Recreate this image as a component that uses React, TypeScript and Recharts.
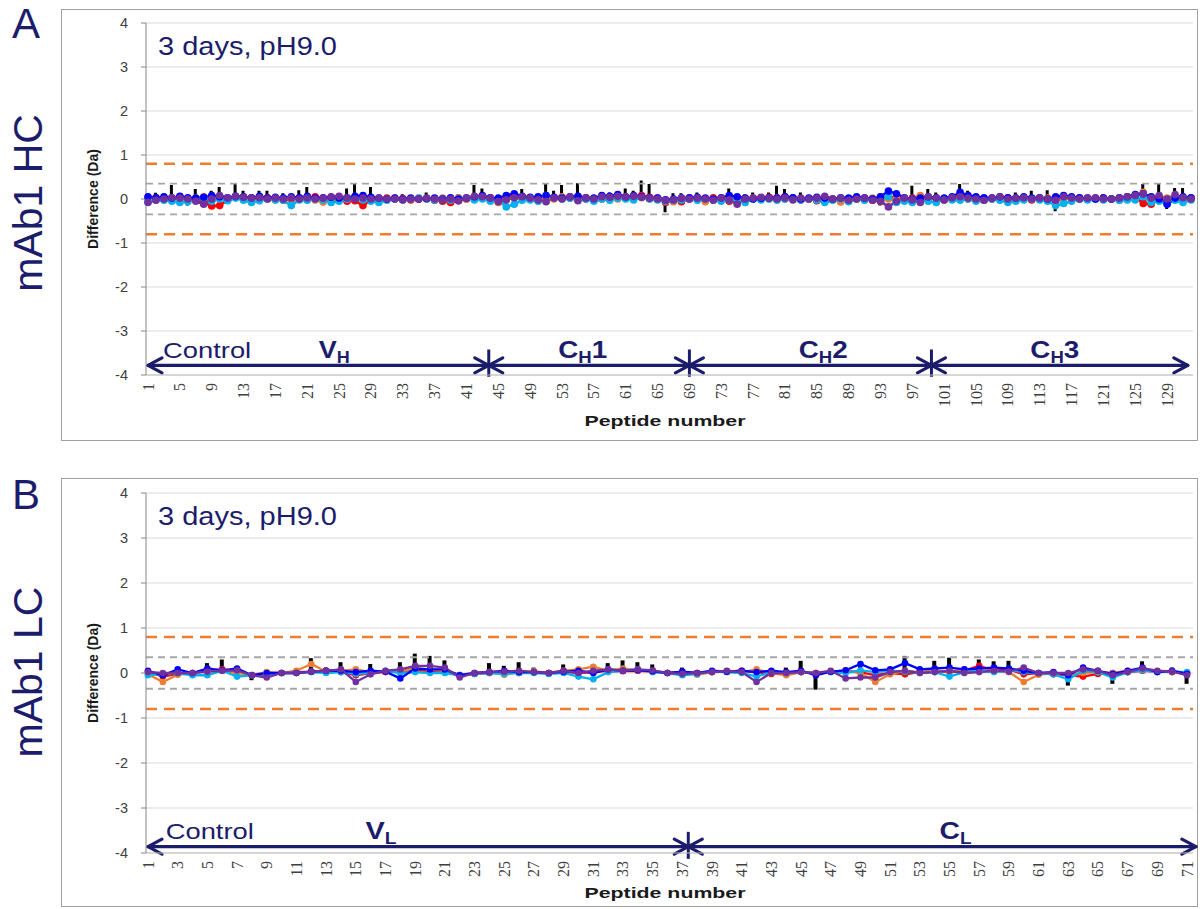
import React from 'react';
import {
  ComposedChart,
  Line,
  Bar,
  XAxis,
  YAxis,
  CartesianGrid,
  ReferenceLine,
  ReferenceDot,
} from 'recharts';

const NAVY = '#1c1c6c';
const RED = '#FF0000';
const ORANGE = '#ED7D31';
const CYAN = '#00B0F0';
const BLUE = '#0000FF';
const PURPLE = '#7030A0';

const Y_TICKS = [-4, -3, -2, -1, 0, 1, 2, 3, 4];

// ---- heavy chain (HC), peptides 1..132 ----
const HC_TICKS = [1, 5, 9, 13, 17, 21, 25, 29, 33, 37, 41, 45, 49, 53, 57, 61, 65, 69, 73, 77, 81, 85, 89, 93, 97, 101, 105, 109, 113, 117, 121, 125, 129];
const HC_PEPTIDES = Array.from({ length: 132 }, (_, i) => i + 1);

const HC_RED = [
  0.02, 0.03, 0.0, 0.02, 0.05, -0.02, 0.0, -0.08, -0.16, -0.15, -0.02, 0.05,
  0.04, 0.02, 0.0, 0.03, 0.01, -0.03, 0.0, 0.02, 0.03, 0.05, 0.0, -0.02,
  0.01, -0.05, -0.04, -0.15, -0.02, 0.0, 0.02, 0.0, 0.01, -0.02, 0.0, 0.01,
  -0.03, -0.05, -0.08, -0.04, 0.0, 0.05, 0.06, 0.02, -0.03, 0.0, 0.08, 0.02,
  0.01, -0.02, 0.0, 0.03, 0.04, 0.02, 0.05, 0.0, -0.03, 0.0, 0.02, 0.04,
  0.03, 0.06, 0.08, 0.04, 0.02, -0.08, -0.03, -0.06, 0.0, 0.02, 0.0, 0.03,
  0.01, -0.05, 0.0, -0.02, 0.02, 0.0, 0.04, 0.03, 0.05, 0.02, -0.02, 0.0,
  -0.04, -0.03, 0.0, -0.05, -0.02, 0.0, 0.02, -0.03, -0.05, 0.05, 0.03, 0.0,
  0.02, 0.05, 0.0, 0.02, -0.02, 0.0, 0.06, 0.02, 0.0, -0.03, 0.0, 0.01,
  0.02, 0.0, 0.03, -0.02, 0.02, 0.0, -0.05, 0.03, 0.0, 0.02, 0.01, 0.0,
  0.02, 0.0, -0.02, 0.03, 0.05, -0.1, -0.12, 0.02, 0.0, 0.03, 0.0, 0.02,
];
const HC_ORANGE = [
  0.0, 0.02, 0.0, 0.03, 0.0, -0.03, 0.02, 0.05, 0.0, 0.02, 0.0, 0.04,
  0.02, 0.0, 0.03, 0.0, -0.02, 0.0, 0.02, 0.0, 0.04, -0.02, -0.07, 0.0,
  0.02, 0.0, 0.03, 0.0, 0.02, 0.0, 0.0, 0.02, 0.0, 0.0, 0.02, 0.0,
  0.0, 0.02, 0.0, 0.03, 0.0, 0.02, 0.04, 0.0, -0.08, 0.0, 0.02, 0.0,
  0.03, 0.0, 0.02, 0.0, 0.05, 0.02, 0.0, 0.03, 0.0, 0.02, 0.04, 0.0,
  0.02, 0.05, 0.03, 0.0, 0.0, -0.05, -0.06, 0.0, 0.02, 0.0, -0.06, 0.0,
  0.02, 0.0, 0.0, 0.02, 0.0, 0.03, 0.0, 0.02, 0.0, 0.02, 0.0, 0.0,
  0.02, 0.0, 0.0, -0.07, 0.0, 0.03, 0.0, 0.02, 0.05, 0.0, 0.02, 0.0,
  0.0, 0.08, 0.02, 0.0, 0.0, 0.02, 0.04, 0.0, -0.04, 0.0, 0.02, 0.0,
  -0.04, 0.0, 0.02, 0.0, 0.0, 0.02, -0.02, 0.0, 0.03, 0.0, 0.0, 0.02,
  0.0, 0.0, 0.02, 0.05, 0.08, 0.15, 0.0, -0.03, 0.02, 0.05, 0.02, 0.0,
];
const HC_CYAN = [
  -0.06, -0.02, -0.03, -0.05, -0.08, -0.06, 0.0, 0.02, -0.05, 0.0, -0.04, 0.02,
  -0.03, -0.08, -0.04, 0.0, -0.02, -0.03, -0.15, -0.02, -0.03, 0.0, -0.02, -0.08,
  -0.05, 0.0, 0.03, -0.02, -0.05, -0.08, -0.03, 0.0, -0.02, 0.0, 0.02, 0.0,
  -0.02, 0.0, -0.03, 0.0, 0.02, -0.02, 0.0, -0.05, -0.02, -0.18, -0.12, -0.03,
  -0.02, -0.05, 0.08, 0.03, 0.0, 0.02, -0.02, 0.0, -0.05, 0.0, -0.03, 0.02,
  0.0, -0.02, 0.04, 0.0, -0.02, -0.05, -0.03, -0.02, 0.0, -0.03, 0.0, -0.02,
  -0.05, -0.02, 0.0, -0.08, 0.0, -0.02, 0.0, -0.03, 0.0, 0.02, -0.02, 0.0,
  -0.02, -0.08, -0.03, 0.0, -0.06, 0.0, -0.03, 0.0, -0.02, 0.05, -0.08, -0.05,
  -0.08, -0.02, -0.05, -0.08, 0.0, -0.02, -0.03, 0.0, -0.05, -0.02, 0.0, -0.03,
  -0.08, -0.05, -0.02, 0.0, -0.02, -0.05, -0.15, -0.1, -0.05, 0.0, -0.02, 0.0,
  -0.02, 0.0, -0.03, -0.02, -0.02, 0.05, -0.08, -0.05, -0.1, -0.03, -0.08, -0.02,
];
const HC_BLUE = [
  0.05, 0.03, 0.05, 0.02, 0.06, 0.03, 0.02, 0.04, 0.08, 0.05, 0.03, 0.06,
  0.05, 0.03, 0.06, 0.02, 0.04, 0.02, 0.05, 0.03, 0.06, 0.02, 0.03, 0.04,
  0.02, 0.03, 0.06, 0.08, 0.04, 0.02, 0.0, 0.02, 0.0, 0.02, 0.0, 0.01,
  0.02, 0.0, 0.03, 0.0, 0.02, 0.05, 0.08, 0.03, 0.02, 0.08, 0.12, 0.06,
  0.04, 0.05, 0.08, 0.04, 0.02, 0.05, 0.06, 0.03, 0.02, 0.08, 0.06, 0.1,
  0.05, 0.08, 0.05, 0.03, 0.02, -0.02, 0.0, 0.02, 0.03, 0.04, 0.02, 0.0,
  0.03, 0.08, 0.05, 0.02, 0.0, 0.02, 0.03, 0.02, 0.05, 0.03, 0.0, 0.02,
  0.04, 0.02, 0.0, 0.03, 0.02, 0.05, 0.02, 0.0, 0.05, 0.18, 0.12, 0.03,
  0.0, 0.02, 0.05, 0.03, 0.02, 0.05, 0.15, 0.08, 0.05, 0.03, 0.02, 0.05,
  0.03, 0.02, 0.05, 0.02, 0.03, 0.0, 0.05, 0.08, 0.05, 0.03, 0.02, 0.0,
  0.02, 0.0, 0.03, 0.05, 0.1, 0.12, 0.05, 0.0, -0.12, 0.02, 0.05, 0.03,
];
const HC_PURPLE = [
  -0.08, -0.03, 0.0, 0.03, 0.02, 0.0, -0.05, -0.12, 0.0, 0.08, 0.03, 0.06,
  0.04, 0.02, 0.03, 0.0, 0.02, 0.0, 0.03, 0.0, 0.02, 0.0, 0.02, 0.05,
  0.06, 0.03, 0.0, 0.02, 0.0, 0.02, 0.0, 0.0, -0.02, 0.0, 0.0, 0.02,
  0.0, -0.02, 0.0, -0.04, 0.02, 0.06, 0.05, 0.02, -0.06, -0.02, 0.03, 0.05,
  0.02, -0.02, -0.06, 0.02, 0.0, 0.05, -0.04, 0.03, 0.0, 0.05, 0.04, 0.06,
  0.05, 0.06, 0.04, 0.02, 0.0, -0.03, -0.02, 0.02, 0.0, 0.02, 0.0, -0.03,
  0.02, -0.02, -0.12, 0.0, 0.02, 0.04, 0.02, 0.0, 0.02, -0.02, 0.02, 0.0,
  0.02, 0.06, 0.0, 0.02, -0.03, 0.0, 0.02, -0.03, -0.05, -0.18, -0.05, 0.02,
  -0.02, -0.08, 0.05, 0.02, -0.02, 0.03, 0.05, 0.02, 0.0, -0.03, 0.02, 0.05,
  0.0, 0.02, 0.03, 0.0, 0.02, 0.0, -0.03, 0.05, 0.02, 0.0, 0.02, 0.03,
  0.0, 0.0, 0.02, 0.05, 0.08, 0.12, 0.02, 0.08, 0.0, 0.1, 0.03, 0.0,
];
const HC_SPREAD = [
  0, 0.14, 0, 0.32, 0, -0.15, 0.23, 0, 0.19, 0.27, 0, 0.36,
  0.19, 0, 0.19, 0.19, 0, 0.13, 0, 0.2, 0.27, 0, 0, 0,
  0, 0.24, 0.34, 0, 0.27, 0, 0, 0, 0.11, 0, 0, 0.15,
  0, 0, 0, 0.11, 0, 0.32, 0.24, 0, 0, 0, 0, 0.23,
  0, 0, 0.34, 0.19, 0.32, 0, 0.36, 0, 0, 0.15, 0.15, 0,
  0.24, 0.19, 0.42, 0.34, 0, -0.3, 0.13, 0.13, 0, 0.15, 0, 0,
  0, 0.24, 0, 0.11, 0.15, 0, 0.15, 0.3, 0.23, 0, 0.15, 0,
  0, 0, 0, 0, 0, 0, 0, 0, -0.15, 0, 0, 0,
  0.3, 0, 0.23, 0.15, 0, 0, 0.34, 0.19, 0.11, 0, 0, 0.13,
  0, 0.15, 0, 0.19, 0, 0.2, -0.28, 0, 0, 0, 0, 0,
  0.11, 0, 0, 0, 0, 0.34, 0, 0.34, -0.23, 0.25, 0.25, 0,
];

// ---- light chain (LC), peptides 1..71 ----
const LC_TICKS = [1, 3, 5, 7, 9, 11, 13, 15, 17, 19, 21, 23, 25, 27, 29, 31, 33, 35, 37, 39, 41, 43, 45, 47, 49, 51, 53, 55, 57, 59, 61, 63, 65, 67, 69, 71];
const LC_PEPTIDES = Array.from({ length: 71 }, (_, i) => i + 1);

const LC_RED = [
  0.03, -0.08, -0.02, 0.0, 0.05, 0.08, 0.04, -0.05, -0.03, 0.0,
  0.02, 0.03, 0.05, 0.02, -0.05, 0.0, 0.02, 0.05, 0.06, 0.05,
  0.02, -0.05, -0.02, 0.0, 0.02, 0.0, 0.02, 0.0, 0.03, 0.0,
  0.02, 0.05, 0.04, 0.05, 0.03, 0.0, 0.02, 0.0, 0.02, 0.03,
  0.05, 0.02, -0.02, 0.0, 0.02, 0.0, 0.03, 0.05, 0.02, -0.05,
  0.0, -0.03, 0.02, 0.05, 0.02, 0.05, 0.16, 0.05, 0.08, -0.03,
  0.0, -0.03, -0.05, -0.08, -0.02, 0.0, 0.02, 0.05, 0.03, 0.02, 0.0,
];
const LC_ORANGE = [
  -0.03, -0.2, -0.04, 0.0, 0.06, 0.05, 0.0, -0.04, 0.02, 0.0,
  0.05, 0.2, 0.03, 0.05, 0.08, 0.02, 0.03, 0.05, 0.1, 0.08,
  0.05, -0.04, 0.0, 0.02, -0.04, 0.02, 0.04, 0.0, 0.05, 0.08,
  0.14, 0.05, 0.1, 0.06, 0.04, 0.0, 0.02, -0.04, 0.02, 0.03,
  0.02, 0.08, 0.0, -0.05, 0.02, 0.0, 0.03, 0.05, 0.0, -0.2,
  -0.03, 0.05, 0.02, 0.05, 0.03, 0.08, 0.05, 0.06, 0.02, -0.2,
  -0.04, 0.0, -0.05, 0.0, 0.02, 0.0, 0.05, 0.08, 0.04, 0.02, -0.02,
];
const LC_CYAN = [
  -0.05, -0.02, 0.0, -0.05, -0.05, 0.05, -0.08, -0.05, -0.02, 0.0,
  0.0, 0.02, 0.0, 0.02, -0.02, 0.0, 0.05, 0.0, 0.02, 0.0,
  0.0, -0.05, -0.02, 0.0, -0.02, 0.0, 0.0, -0.02, 0.0, -0.08,
  -0.14, 0.02, 0.05, 0.08, 0.02, 0.0, -0.05, -0.02, 0.03, 0.02,
  0.0, -0.08, 0.02, 0.0, 0.03, -0.02, 0.02, 0.0, 0.06, 0.02,
  0.05, 0.03, 0.0, 0.02, -0.08, 0.02, 0.05, 0.02, 0.06, 0.02,
  0.0, -0.03, -0.14, 0.05, 0.02, -0.1, 0.02, 0.06, 0.02, 0.03, 0.02,
];
const LC_BLUE = [
  0.05, -0.05, 0.08, 0.0, 0.1, 0.06, 0.1, -0.05, 0.0, 0.0,
  0.0, 0.03, 0.05, 0.05, 0.02, 0.05, 0.03, -0.12, 0.1, 0.08,
  0.08, -0.05, 0.0, 0.02, 0.05, 0.02, 0.02, 0.0, 0.03, 0.05,
  0.0, 0.08, 0.05, 0.06, 0.04, 0.0, 0.03, 0.0, 0.05, 0.03,
  0.05, 0.02, 0.05, 0.02, 0.05, -0.05, 0.03, 0.06, 0.2, 0.06,
  0.08, 0.22, 0.08, 0.1, 0.12, 0.08, 0.1, 0.12, 0.1, 0.05,
  0.0, 0.02, -0.05, 0.12, 0.05, -0.02, 0.05, 0.12, 0.02, 0.05, -0.02,
];
const LC_PURPLE = [
  0.02, 0.0, 0.0, 0.0, 0.03, 0.05, 0.06, -0.05, -0.1, 0.0,
  0.0, 0.03, 0.05, 0.08, -0.2, -0.03, 0.05, 0.08, 0.16, 0.16,
  0.12, -0.1, 0.0, 0.02, 0.03, 0.05, 0.02, 0.0, 0.05, 0.0,
  0.05, 0.08, 0.05, 0.08, 0.06, 0.0, -0.02, 0.0, 0.02, 0.05,
  0.02, -0.2, 0.0, 0.0, 0.02, 0.0, 0.05, -0.12, -0.1, -0.1,
  0.02, 0.05, 0.0, 0.02, 0.05, 0.0, 0.02, 0.05, 0.03, 0.12,
  0.0, 0.0, 0.0, 0.08, 0.05, -0.05, 0.02, 0.1, 0.05, 0.03, -0.05,
];
const LC_SPREAD = [
  0, 0, 0, 0, 0.22, 0.3, 0, -0.16, 0, 0,
  0, 0.33, 0.12, 0.24, 0, 0.2, 0.08, 0.24, 0.43, 0.38,
  0.28, 0, 0, 0.22, 0.16, 0.24, 0.12, 0, 0.19, 0,
  0, 0.22, 0.28, 0.24, 0.19, 0, 0.12, 0, 0, 0,
  0, 0, 0, 0.12, 0.27, -0.37, 0.1, 0.1, 0.23, 0,
  0, 0.38, 0, 0.27, 0.34, 0.12, 0.3, 0.26, 0.27, 0,
  0, 0, -0.28, 0, 0, -0.24, 0, 0.26, 0, 0.12, -0.24,
];

// domain arrows along the bottom (peptide positions)
const HC_ARROWS = [[1, 43.8], [43.8, 69], [69, 99.4], [99.4, 131.6]];
const HC_DIVIDERS = [43.8, 69, 99.4];
const HC_REGIONS = [
  { x: 24.4, main: 'V', sub: 'H', tail: '', len: 31 },
  { x: 55.6, main: 'C', sub: 'H', tail: '1', len: 49 },
  { x: 85.8, main: 'C', sub: 'H', tail: '2', len: 49 },
  { x: 114.9, main: 'C', sub: 'H', tail: '3', len: 49 },
];
const LC_ARROWS = [[1, 37.4], [37.4, 71.6]];
const LC_DIVIDERS = [37.4];
const LC_REGIONS = [
  { x: 16.7, main: 'V', sub: 'L', tail: '', len: 31 },
  { x: 55.4, main: 'C', sub: 'L', tail: '', len: 32 },
];

const buildRows = (peptides: number[], red: number[], orange: number[], cyan: number[], blue: number[], purple: number[], spread: number[]) =>
  peptides.map((p, i) => ({
    p,
    red: red[i],
    orange: orange[i],
    cyan: cyan[i],
    blue: blue[i],
    purple: purple[i],
    spread: spread[i],
  }));

const HC_DATA = buildRows(HC_PEPTIDES, HC_RED, HC_ORANGE, HC_CYAN, HC_BLUE, HC_PURPLE, HC_SPREAD);
const LC_DATA = buildRows(LC_PEPTIDES, LC_RED, LC_ORANGE, LC_CYAN, LC_BLUE, LC_PURPLE, LC_SPREAD);

const XTick = ({ x, y, payload }: any) => (
  <text
    x={x}
    y={y}
    transform={`rotate(-90 ${x} ${y})`}
    textAnchor="end"
    dominantBaseline="central"
    fontSize={16}
    fontFamily="Liberation Serif"
    fill="#404040"
  >
    {payload.value}
  </text>
);

const DoubleArrow = (props: any) => {
  const { x1, y1, x2, y2 } = props;
  const h = 14;
  const w = 7.5;
  return (
    <g stroke={NAVY} strokeWidth={3.2} fill="none" strokeLinecap="round" strokeLinejoin="round">
      <line x1={x1} y1={y1} x2={x2} y2={y2} />
      <polyline points={`${x1 + h},${y1 - w} ${x1},${y1} ${x1 + h},${y1 + w}`} />
      <polyline points={`${x2 - h},${y2 - w} ${x2},${y2} ${x2 - h},${y2 + w}`} />
    </g>
  );
};

type PanelProps = {
  top: number;
  height: number;
  data: any[];
  ticks: number[];
  maxX: number;
  padRight: number;
  marginTop: number;
  axisHeight: number;
  arrowY: number;
  textY: number;
  divTop: number;
  divBottom: number;
  arrows: number[][];
  dividers: number[];
  regions: { x: number; main: string; sub: string; tail: string; len: number }[];
  controlX: number;
  dotR: number;
  lineW: number;
  barSize: number;
};

function Panel(props: PanelProps) {
  const {
    top, height, data, ticks, maxX, padRight, marginTop, axisHeight, arrowY, textY,
    divTop, divBottom, arrows, dividers, regions, controlX, dotR, lineW, barSize,
  } = props;
  const series = [
    { key: 'red', color: RED },
    { key: 'orange', color: ORANGE },
    { key: 'cyan', color: CYAN },
    { key: 'blue', color: BLUE },
    { key: 'purple', color: PURPLE },
  ];
  return (
    <div style={{ position: 'absolute', left: 61, top, width: 1137, height }}>
      <ComposedChart width={1137} height={height} data={data} margin={{ top: marginTop, right: 5, bottom: 0, left: 0 }}>
        <CartesianGrid vertical={false} stroke="#d9d9d9" />
        <XAxis
          dataKey="p"
          type="number"
          domain={[1, maxX]}
          ticks={ticks}
          interval={0}
          padding={{ left: 2, right: padRight }}
          height={axisHeight}
          axisLine={{ stroke: '#bfbfbf' }}
          tickLine={false}
          tick={<XTick />}
        />
        <YAxis
          type="number"
          domain={[-4, 4]}
          ticks={Y_TICKS}
          interval={0}
          width={85}
          allowDataOverflow
          axisLine={{ stroke: '#868686' }}
          tickLine={{ stroke: '#868686' }}
          tickSize={5}
          tickMargin={13}
          tick={{ fontSize: 14.5, fill: '#404040', fontFamily: 'Liberation Sans' }}
        />
        <ReferenceLine y={0.8} stroke={ORANGE} strokeWidth={2.5} strokeDasharray="11 7" />
        <ReferenceLine y={-0.8} stroke={ORANGE} strokeWidth={2.5} strokeDasharray="11 7" />
        <ReferenceLine y={0.35} stroke="#a6a6a6" strokeWidth={1.8} strokeDasharray="7 5" />
        <ReferenceLine y={-0.35} stroke="#a6a6a6" strokeWidth={1.8} strokeDasharray="7 5" />
        <Bar dataKey="spread" fill="#000" barSize={barSize} isAnimationActive={false} />
        {series.map((s) => (
          <Line
            key={s.key}
            dataKey={s.key}
            type="linear"
            stroke={s.color}
            strokeWidth={lineW}
            dot={{ r: dotR, fill: s.color, stroke: s.color, strokeWidth: 0 }}
            activeDot={false}
            isAnimationActive={false}
          />
        ))}
        {arrows.map(([a, b], i) => (
          <ReferenceLine
            key={`arrow-${i}`}
            segment={[{ x: a, y: arrowY }, { x: b, y: arrowY }]}
            ifOverflow="visible"
            shape={DoubleArrow}
          />
        ))}
        {dividers.map((d, i) => (
          <ReferenceLine
            key={`div-${i}`}
            segment={[{ x: d, y: divTop }, { x: d, y: divBottom }]}
            ifOverflow="visible"
            stroke={NAVY}
            strokeWidth={3}
          />
        ))}
        <ReferenceDot
          x={controlX}
          y={textY}
          r={0}
          ifOverflow="visible"
          shape={(p: any) => (
            <text x={p.cx} y={p.cy} fill={NAVY} fontFamily="Liberation Sans" fontSize={22} textLength={88} lengthAdjust="spacingAndGlyphs">
              Control
            </text>
          )}
        />
        {regions.map((r, i) => (
          <ReferenceDot
            key={`region-${i}`}
            x={r.x}
            y={textY}
            r={0}
            ifOverflow="visible"
            shape={(p: any) => (
              <text
                x={p.cx}
                y={p.cy}
                textAnchor="middle"
                fill={NAVY}
                fontFamily="Liberation Sans"
                fontWeight="bold"
                fontSize={24}
                textLength={r.len}
                lengthAdjust="spacingAndGlyphs"
              >
                {r.main}
                <tspan fontSize={16} dy={5}>{r.sub}</tspan>
                {r.tail ? <tspan fontSize={24} dy={-5}>{r.tail}</tspan> : null}
              </text>
            )}
          />
        ))}
      </ComposedChart>
    </div>
  );
}

export default function App() {
  const boxStyle = (top: number, height: number): React.CSSProperties => ({
    position: 'absolute',
    left: 61,
    top,
    width: 1137,
    height,
    border: '1px solid #a0a0a0',
    boxSizing: 'border-box',
  });
  return (
    <div style={{ position: 'absolute', left: 0, top: 0, width: 1203, height: 909, background: '#fff', overflow: 'hidden', fontFamily: 'Liberation Sans' }}>
      <div style={boxStyle(9, 432)} />
      <div style={boxStyle(478, 429)} />

      <Panel
        top={9}
        height={432}
        data={HC_DATA}
        ticks={HC_TICKS}
        maxX={132}
        padRight={2}
        marginTop={14}
        axisHeight={66}
        arrowY={-3.78}
        textY={-3.61}
        divTop={-3.42}
        divBottom={-4.04}
        arrows={HC_ARROWS}
        dividers={HC_DIVIDERS}
        regions={HC_REGIONS}
        controlX={2.9}
        dotR={3.8}
        lineW={2.6}
        barSize={3}
      />
      <Panel
        top={478}
        height={429}
        data={LC_DATA}
        ticks={LC_TICKS}
        maxX={71}
        padRight={6}
        marginTop={15}
        axisHeight={54}
        arrowY={-3.86}
        textY={-3.68}
        divTop={-3.53}
        divBottom={-4.13}
        arrows={LC_ARROWS}
        dividers={LC_DIVIDERS}
        regions={LC_REGIONS}
        controlX={2.2}
        dotR={3.3}
        lineW={2.3}
        barSize={4}
      />

      <svg width={1203} height={909} style={{ position: 'absolute', left: 0, top: 0, pointerEvents: 'none' }}>
        <g fill={NAVY} fontFamily="Liberation Sans">
          <text x={12} y={38} fontSize={42}>A</text>
          <text x={12} y={509} fontSize={42}>B</text>
          <text x={42} y={203} fontSize={41} textAnchor="middle" transform="rotate(-90 42 203)">mAb1 HC</text>
          <text x={42} y={672} fontSize={41} textAnchor="middle" transform="rotate(-90 42 672)">mAb1 LC</text>
          <text x={158} y={55} fontSize={25} textLength={179} lengthAdjust="spacingAndGlyphs">3 days, pH9.0</text>
          <text x={158} y={525} fontSize={25} textLength={179} lengthAdjust="spacingAndGlyphs">3 days, pH9.0</text>
        </g>
        <g fill="#1a1a1a" fontFamily="Liberation Sans" fontWeight="bold">
          <text x={93} y={199} fontSize={14} textAnchor="middle" dominantBaseline="central" textLength={100} lengthAdjust="spacingAndGlyphs" transform="rotate(-90 93 199)">Difference (Da)</text>
          <text x={93} y={673} fontSize={14} textAnchor="middle" dominantBaseline="central" textLength={100} lengthAdjust="spacingAndGlyphs" transform="rotate(-90 93 673)">Difference (Da)</text>
          <text x={665} y={426} fontSize={15} textAnchor="middle" textLength={161} lengthAdjust="spacingAndGlyphs">Peptide number</text>
          <text x={665} y={898} fontSize={15} textAnchor="middle" textLength={161} lengthAdjust="spacingAndGlyphs">Peptide number</text>
        </g>
      </svg>
    </div>
  );
}
